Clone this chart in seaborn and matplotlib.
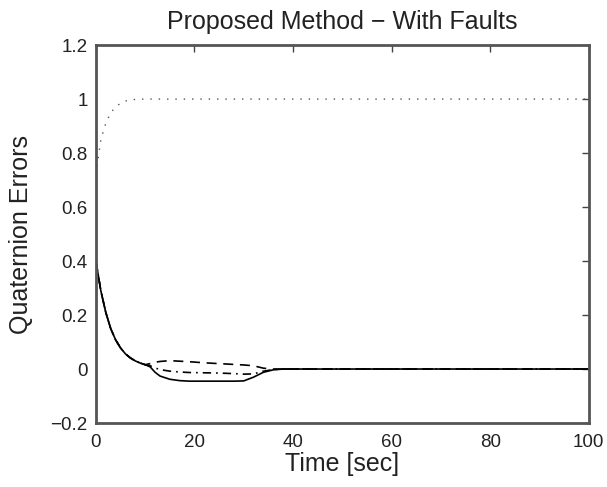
import numpy as np
import pandas as pd
import matplotlib
matplotlib.use("Agg")
import matplotlib.pyplot as plt
import seaborn as sns

# ---- data ----
time = [0, 1, 2, 3, 4, 5, 6, 7, 8, 9, 10, 11, 12, 13, 15, 17, 19, 22, 25, 28,
        30, 32, 34, 36, 38, 40, 100]
q1 = [0.40, 0.29, 0.21, 0.15, 0.108, 0.078, 0.056, 0.041, 0.030, 0.022, 0.016,
      0.008, -0.012, -0.026, -0.038, -0.043, -0.045, -0.045, -0.045, -0.045,
      -0.044, -0.030, -0.012, -0.003, 0.0, 0.0, 0.0]
q2 = [0.40, 0.29, 0.21, 0.15, 0.108, 0.078, 0.056, 0.041, 0.030, 0.022, 0.016,
      0.020, 0.025, 0.028, 0.031, 0.029, 0.027, 0.023, 0.020, 0.017,
      0.015, 0.012, 0.003, 0.0, 0.0, 0.0, 0.0]
q3 = [0.40, 0.29, 0.21, 0.15, 0.108, 0.078, 0.056, 0.041, 0.030, 0.022, 0.016,
      0.012, 0.004, -0.002, -0.008, -0.011, -0.013, -0.014, -0.015, -0.017,
      -0.019, -0.018, -0.008, -0.002, 0.0, 0.0, 0.0]
time4 = [0, 1, 2, 3, 4, 5, 6, 8, 10, 100]
q4 = [0.72, 0.85, 0.91, 0.95, 0.97, 0.985, 0.993, 0.999, 1.0, 1.0]

x_ticks = [0, 20, 40, 60, 80, 100]
y_ticks = [-0.2, 0, 0.2, 0.4, 0.6, 0.8, 1, 1.2]
y_tick_labels = ["-0.2", "0", "0.2", "0.4", "0.6", "0.8", "1", "1.2"]

sns.set_style("white")
plt.rcParams['font.family'] = ['Liberation Sans', 'DejaVu Sans']

fig = plt.figure(figsize=(6.07, 4.87), dpi=100)
ax = fig.add_axes([0.158, 0.1314, 0.812, 0.776])

df123 = pd.DataFrame({"t": time, "q1": q1, "q2": q2, "q3": q3})
df4 = pd.DataFrame({"t": time4, "q4": q4})

sns.lineplot(data=df123, x="t", y="q1", ax=ax, color="black", lw=1.2,
             linestyle="-")
sns.lineplot(data=df123, x="t", y="q2", ax=ax, color="black", lw=1.2,
             linestyle=(0, (6, 4)))
sns.lineplot(data=df123, x="t", y="q3", ax=ax, color="black", lw=1.2,
             linestyle=(0, (5, 3, 1, 3)))
sns.lineplot(data=df4, x="t", y="q4", ax=ax, color="#555555", lw=1.0,
             linestyle=(0, (1, 5)))

ax.set_xlim(0, 100)
ax.set_ylim(-0.2, 1.2)
ax.set_xticks(x_ticks)
ax.set_yticks(y_ticks)
ax.set_yticklabels(["\u2212" + l[1:] if l.startswith("-") else l for l in y_tick_labels])
ax.tick_params(direction="in", top=True, right=True, length=5, width=1,
               labelsize=13.5, colors="#444444", labelcolor="#222222")
ax.tick_params(axis="x", pad=8)
ax.tick_params(axis="y", pad=6)
for s in ax.spines.values():
    s.set_color("#555555")
    s.set_linewidth(2.0)

ax.set_xlabel("Time [sec]", fontsize=18, color="#222222")
ax.set_ylabel("Quaternion Errors", fontsize=18, color="#222222")
ax.xaxis.set_label_coords(0.5, -0.077)
ax.yaxis.set_label_coords(-0.128, 0.5)
ax.set_title("Proposed Method \u2212 With Faults", fontsize=18, color="#222222", pad=11.5)

fig.savefig("out.png", dpi=100, facecolor="white")
